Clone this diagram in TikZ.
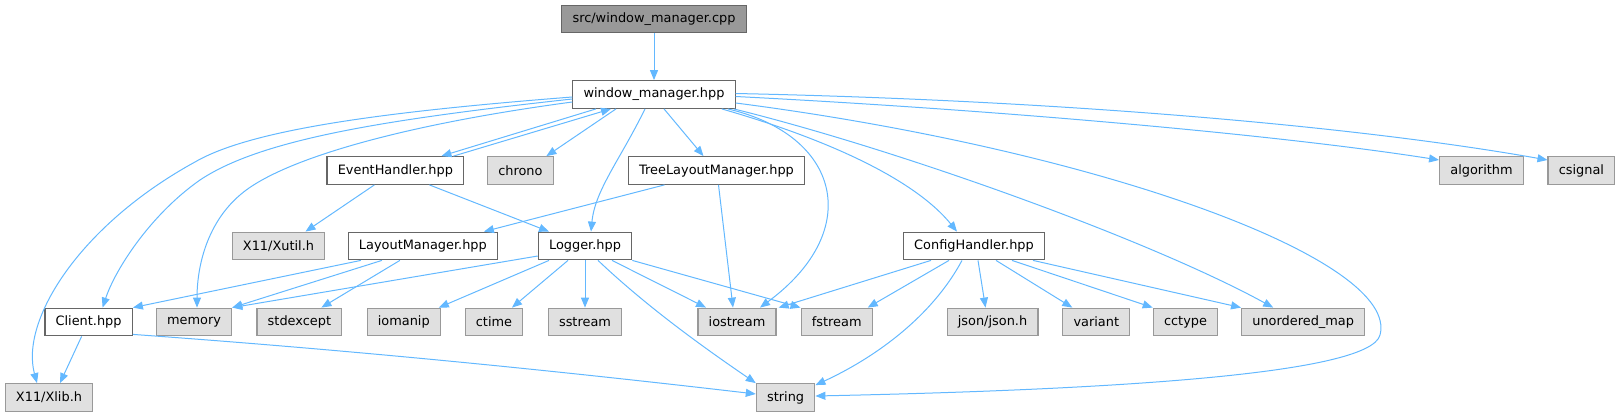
\documentclass[tikz,border=0pt]{standalone}
\usepackage{fontspec}
\setmainfont{DejaVu Sans}
\usetikzlibrary{arrows.meta}
\definecolor{dxblue}{RGB}{99,184,255}
\definecolor{dxgray}{RGB}{153,153,153}
\definecolor{dxdark}{RGB}{102,102,102}
\definecolor{dxfill}{RGB}{224,224,224}

\begin{document}
\begin{tikzpicture}[x=1pt, y=-1pt, font=\fontsize{12.9}{15}\selectfont,
  box/.style={draw, rectangle, line width=1.2pt, minimum height=27.6pt, inner xsep=10.7pt, inner ysep=0pt, text=black},
  docbox/.style={box, draw=dxdark, fill=white},
  extbox/.style={box, draw=dxgray, fill=dxfill},
  rootbox/.style={box, draw=dxdark, fill=dxgray},
  dep/.style={draw=dxblue, line width=1pt, -{Triangle[length=10pt,width=8pt]}}]
\useasboundingbox (0,0) rectangle (1621,417);

% Row 0 and 1
\node[rootbox] (cpp) at (654,19) {src/window\_manager.cpp};
\node[docbox] (wm) at (654,94.5) {window\_manager.hpp};
% Row 2
\node[docbox] (eh) at (395.4,170.5) {EventHandler.hpp};
\node[extbox] (chrono) at (520.4,170.5) {chrono};
\node[docbox] (tlm) at (716.5,170.5) {TreeLayoutManager.hpp};
\node[extbox] (algorithm) at (1481.5,170.5) {algorithm};
\node[extbox] (csignal) at (1581.4,170.5) {csignal};
% Row 3
\node[extbox] (xutil) at (278.5,246) {X11/Xutil.h};
\node[docbox] (lm) at (422.9,246) {LayoutManager.hpp};
\node[docbox] (logger) at (585,246) {Logger.hpp};
\node[docbox] (config) at (974,246) {ConfigHandler.hpp};
% Row 4
\node[docbox] (client) at (88.6,322) {Client.hpp};
\node[extbox] (memory) at (194,322) {memory};
\node[extbox] (stdexcept) at (299.4,322) {stdexcept};
\node[extbox] (iomanip) at (403.8,322) {iomanip};
\node[extbox] (ctime) at (494,322) {ctime};
\node[extbox] (sstream) at (585,322) {sstream};
\node[extbox] (iostream) at (737,322) {iostream};
\node[extbox] (fstream) at (836.7,322) {fstream};
\node[extbox] (json) at (992.5,322) {json/json.h};
\node[extbox] (variant) at (1096.3,322) {variant};
\node[extbox] (cctype) at (1185.5,322) {cctype};
\node[extbox] (umap) at (1303.2,322) {unordered\_map};
% Row 5
\node[extbox] (xlib) at (49,397.5) {X11/Xlib.h};
\node[extbox] (string) at (785.6,397.5) {string};

% window_manager.hpp
\draw[dep] (cpp) -- (wm);
\draw[dep] ([xshift=-58pt]wm.south) -- ([xshift=46pt]eh.north);
\draw[dep] ([xshift=58pt]eh.north) -- ([xshift=-43pt]wm.south);
\draw[dep] ([xshift=-38pt]wm.south) -- ([xshift=26pt]chrono.north);
\draw[dep] ([xshift=10pt]wm.south) -- ([xshift=-13pt]tlm.north);
\draw[dep] ([xshift=-9pt]wm.south) .. controls (620,160) and (595,190) .. ([xshift=6pt]logger.north);
\draw[dep] ([xshift=-8pt]wm.south east) .. controls (840,135) and (865,230) .. ([xshift=23pt]iostream.north);
\draw[dep] ([xshift=-14pt]wm.south east) .. controls (830,140) and (915,180) .. ([xshift=-17pt]config.north);
\draw[dep] ([xshift=-2pt]wm.south east) .. controls (900,150) and (1150,240) .. ([xshift=-30pt]umap.north);
\draw[dep] ([yshift=-8.5pt]wm.east) .. controls (1100,150) and (1400,260) .. (1380,335)
  .. controls (1370,375) and (1100,390) .. ([yshift=1.5pt]string.east);
\draw[dep] ([yshift=-2pt]wm.east) .. controls (1000,110) and (1280,135) .. ([yshift=10.5pt]algorithm.west);
\draw[dep] ([yshift=1pt]wm.east) .. controls (1050,100) and (1350,125) .. ([yshift=10.5pt]csignal.west);
\draw[dep] ([yshift=-2.5pt]wm.west) .. controls (380,112) and (250,130) .. (195,162)
  .. controls (80,225) and (20,320) .. ([xshift=-12pt]xlib.north);
\draw[dep] ([yshift=-4.5pt]wm.west) .. controls (380,120) and (260,140) .. (200,180)
  .. controls (150,215) and (115,270) .. ([xshift=14pt]client.north);
\draw[dep] ([yshift=-7.5pt]wm.west) .. controls (400,125) and (280,160) .. (240,195)
  .. controls (205,225) and (197,270) .. ([xshift=3pt]memory.north);

% EventHandler.hpp and TreeLayoutManager.hpp
\draw[dep] ([xshift=-21pt]eh.south) -- ([xshift=27pt]xutil.north);
\draw[dep] ([xshift=34pt]eh.south) -- ([xshift=-36pt]logger.north);
\draw[dep] ([xshift=-52pt]tlm.south) -- ([xshift=61pt]lm.north);
\draw[dep] ([xshift=2pt]tlm.south) -- ([xshift=-4pt]iostream.north);

% LayoutManager.hpp
\draw[dep] ([xshift=-62pt]lm.south) -- (client.north east);
\draw[dep] ([xshift=-41pt]lm.south) -- (memory.north east);
\draw[dep] ([xshift=-23pt]lm.south) -- ([xshift=22pt]stdexcept.north);

% Logger.hpp
\draw[dep] ([yshift=-10pt]logger.west) -- (memory.north east);
\draw[dep] ([xshift=-36pt]logger.south) -- ([xshift=35pt]iomanip.north);
\draw[dep] ([xshift=-17pt]logger.south) -- ([xshift=18pt]ctime.north);
\draw[dep] (logger) -- (sstream);
\draw[dep] ([xshift=27pt]logger.south) -- ([xshift=-31pt]iostream.north);
\draw[dep] (logger.south east) -- (fstream.north west);
\draw[dep] ([xshift=13pt]logger.south) .. controls (645,305) and (700,345) .. (string.north west);

% Client.hpp
\draw[dep] ([xshift=-7pt]client.south) -- ([xshift=11pt]xlib.north);
\draw[dep] ([yshift=2pt]client.south east) .. controls (350,350) and (550,370) .. ([yshift=3.5pt]string.west);

% ConfigHandler.hpp
\draw[dep] ([xshift=-43pt]config.south) -- ([xshift=2pt]iostream.north east);
\draw[dep] ([xshift=-25pt]config.south) -- ([xshift=31pt]fstream.north);
\draw[dep] ([xshift=-12pt]config.south) .. controls (930,320) and (870,360) .. ([yshift=-2pt]string.north east);
\draw[dep] ([xshift=4pt]config.south) -- ([xshift=-7pt]json.north);
\draw[dep] ([xshift=22pt]config.south) -- ([xshift=-24pt]variant.north);
\draw[dep] ([xshift=38pt]config.south) -- (cctype.north west);
\draw[dep] ([xshift=59pt]config.south) -- (umap.north west);
\end{tikzpicture}
\end{document}
